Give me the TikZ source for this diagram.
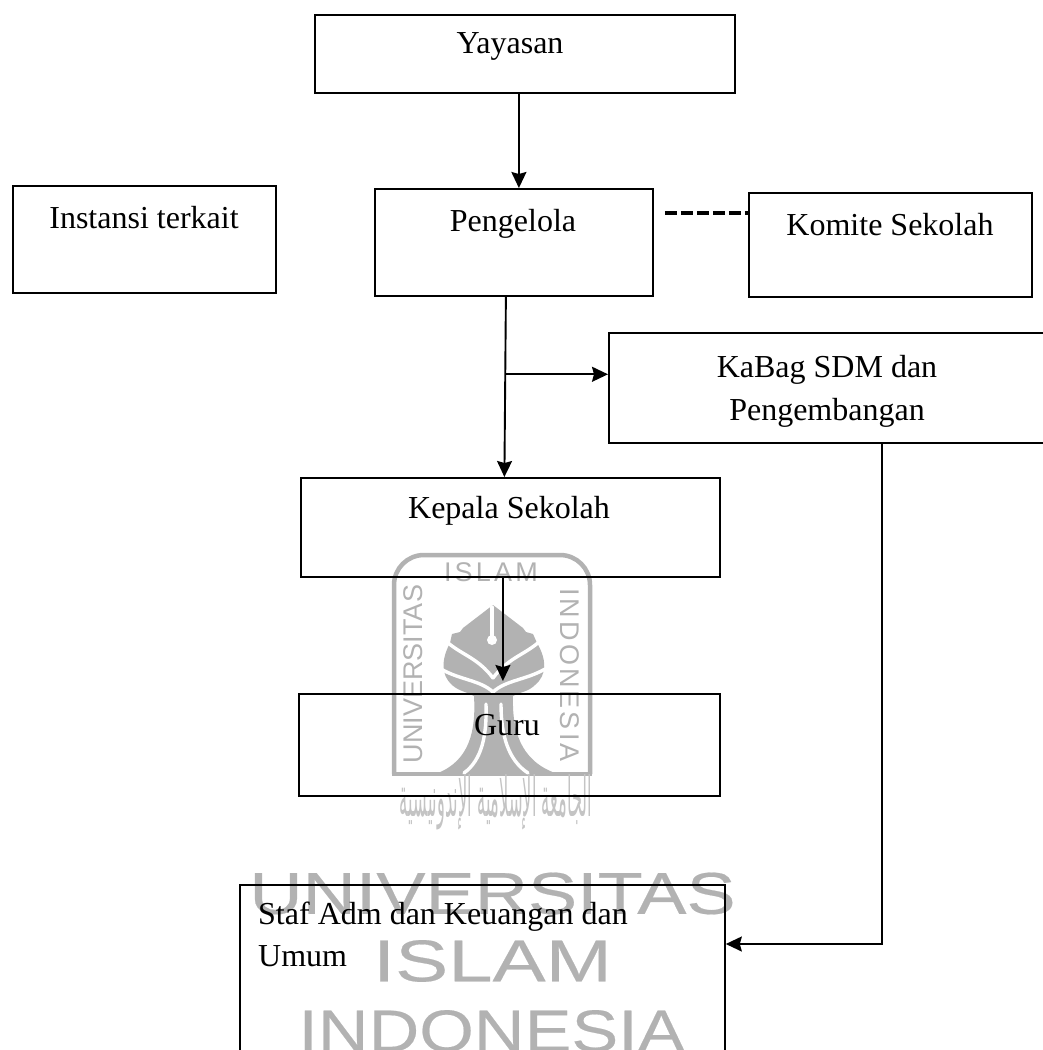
\documentclass[tikz,border=0pt]{standalone}
\usepackage{fontspec}
\setmainfont{Liberation Serif}
\newfontfamily\wmbig[FakeBold=0.3]{Liberation Sans}
\newfontfamily\wmuni[LetterSpace=0]{Liberation Sans}
\newfontfamily\wmisl[LetterSpace=12]{Liberation Sans}
\newfontfamily\wmind[LetterSpace=11.5]{Liberation Sans}
\TeXXeTstate=1
\newfontfamily\arabicfont[Script=Arabic]{DejaVu Sans}
\usetikzlibrary{arrows.meta,calc}
\definecolor{wm}{HTML}{B2B2B2}
\definecolor{wmpale}{HTML}{C4C4C4}
\tikzset{
  x=1pt,y=-1pt,
  orgbox/.style={draw=black,line width=1.8pt,rectangle,inner sep=0pt,anchor=north west},
  lbl/.style={font=\fontsize{32}{42}\selectfont,inner sep=0pt,text=black,align=center,anchor=base},
  conn/.style={draw=black,line width=1.9pt,-{Stealth[length=16pt,width=15pt,inset=2pt]}},
  wmtext/.style={text=wm,inner sep=0pt,font=\wmbig\fontsize{59}{59}\selectfont},
  wmsmall/.style={text=wm,inner sep=0pt},
  wmfill/.style={fill=wm,draw=none},
  wmcut/.style={draw=white,line width=3.4pt,fill=none,line cap=round}
}
\begin{document}
\begin{tikzpicture}
\useasboundingbox (0,0) rectangle (1043,1050);
\clip (0,0) rectangle (1043,1050);
\fill[white] (0,0) rectangle (1043,1050);
% watermark: frame
\draw[wm,line width=4.5pt,rounded corners=30pt] (394,774) -- (394,555) -- (590,555) -- (590,774);
\draw[wm,line width=4.5pt] (392,774) -- (592,774);
% watermark: leaf and trunk silhouette
\path[wmfill] (493,605) -- (463,628) -- (460,632) -- (452,634) -- (450,643)
  .. controls (441,660) and (441,675) .. (452,685)
  .. controls (460,692) and (468,692) .. (474,696)
  .. controls (476,730) and (470,760) .. (438,773)
  -- (555,773)
  .. controls (520,760) and (512,730) .. (513,696)
  .. controls (520,692) and (528,692) .. (535,685)
  .. controls (547,675) and (547,660) .. (537,643)
  -- (533,634) -- (526,632) -- (523,628) -- cycle;
% watermark: white cuts
\draw[wmcut] (447,642) .. controls (462,655) and (478,658) .. (493,678);
\draw[wmcut] (539,642) .. controls (524,655) and (508,658) .. (493,678);
\draw[wmcut] (441,669) .. controls (460,680) and (480,680) .. (493,692);
\draw[wmcut] (545,669) .. controls (526,680) and (506,680) .. (493,692);
\draw[wmcut] (486,704) .. controls (487,735) and (482,760) .. (464,773);
\draw[wmcut] (501,704) .. controls (501,735) and (508,760) .. (528,773);
\draw[wmcut] (492,607) -- (492,636);
\fill[white] (492,640) circle (5);
% watermark: rotated lettering
\node[wmsmall,font=\wmisl\fontsize{27}{27}\selectfont] (wmislamtop) at (491,572) {ISLAM};
\node[wmsmall,font=\wmuni\fontsize{27}{27}\selectfont,rotate=90] (wmunitop) at (413,674) {UNIVERSITAS};
\node[wmsmall,font=\wmind\fontsize{27}{27}\selectfont,rotate=-90] (wmindtop) at (570,675) {INDONESIA};
\node[text=wmpale,inner sep=0pt] (wmarabic) at (496,802) {\resizebox{192pt}{42pt}{\arabicfont\beginR الجامعة الإسلامية الإندونيسية\endR}};
% watermark: big lettering
\node[wmtext] (wmuni) at (492.5,893.5) {\scalebox{1.25}[1]{UNIVERSITAS}};
\node[wmtext] (wmisl) at (492.5,961) {\scalebox{1.35}[1]{ISLAM}};
\node[wmtext] (wmind) at (491.5,1031) {\scalebox{1.19}[1]{INDONESIA}};
% boxes
\node[orgbox,minimum width=420pt,minimum height=78pt] (yayasan) at (314,14) {};
\node[orgbox,minimum width=263pt,minimum height=107pt] (instansi) at (12,185) {};
\node[orgbox,minimum width=278pt,minimum height=107pt] (pengelola) at (374,188) {};
\node[orgbox,minimum width=283pt,minimum height=104pt] (komite) at (748,192) {};
\node[orgbox,minimum width=450pt,minimum height=110pt] (kabag) at (608,332) {};
\node[orgbox,minimum width=419pt,minimum height=99pt] (kepala) at (300,477) {};
\node[orgbox,minimum width=421pt,minimum height=102pt] (guru) at (298,693) {};
\node[orgbox,minimum width=485pt,minimum height=200pt] (staf) at (239,884) {};
% labels
\node[lbl] (tyayasan) at (510,53) {Yayasan};
\node[lbl] (tinstansi) at (144,228) {Instansi terkait};
\node[lbl] (tpengelola) at (513,231) {Pengelola};
\node[lbl] (tkomite) at (890,235) {Komite Sekolah};
\node[lbl] (tkabag) at (827,377) {KaBag SDM dan};
\node[lbl] (tkabagb) at (827,420) {Pengembangan};
\node[lbl] (tkepala) at (509,518) {Kepala Sekolah};
\node[lbl] (tguru) at (507,735) {Guru};
\node[lbl,anchor=base west] (tstaf) at (258,924) {Staf Adm dan Keuangan dan};
\node[lbl,anchor=base west] (tstafb) at (258,966) {Umum};
% connectors
\draw[conn] ([xshift=-6pt]yayasan.south) -- ([xshift=5pt]pengelola.north);
\draw[conn] ([xshift=-8pt]pengelola.south) -- ([xshift=-6pt]kepala.north);
\coordinate (branch) at ($([xshift=-8pt]pengelola.south)!0.43!([xshift=-6pt]kepala.north)$);
\draw[conn] (branch) -- (branch -| kabag.west);
\draw[conn] ([xshift=-7.5pt]kepala.south) -- ([xshift=-6.5pt,yshift=12pt]guru.north);
\coordinate (dashstart) at ([xshift=11pt,yshift=29.5pt]pengelola.east);
\draw[draw=black,line width=3.2pt,dash pattern=on 12pt off 4pt] (dashstart) -- (dashstart -| komite.west);
\coordinate (kabagout) at ([xshift=274pt]kabag.south west);
\coordinate (stafin) at ([yshift=-60pt]staf.north east);
\draw[conn] (kabagout) -- (kabagout |- stafin) -- (stafin);
\end{tikzpicture}
\end{document}
